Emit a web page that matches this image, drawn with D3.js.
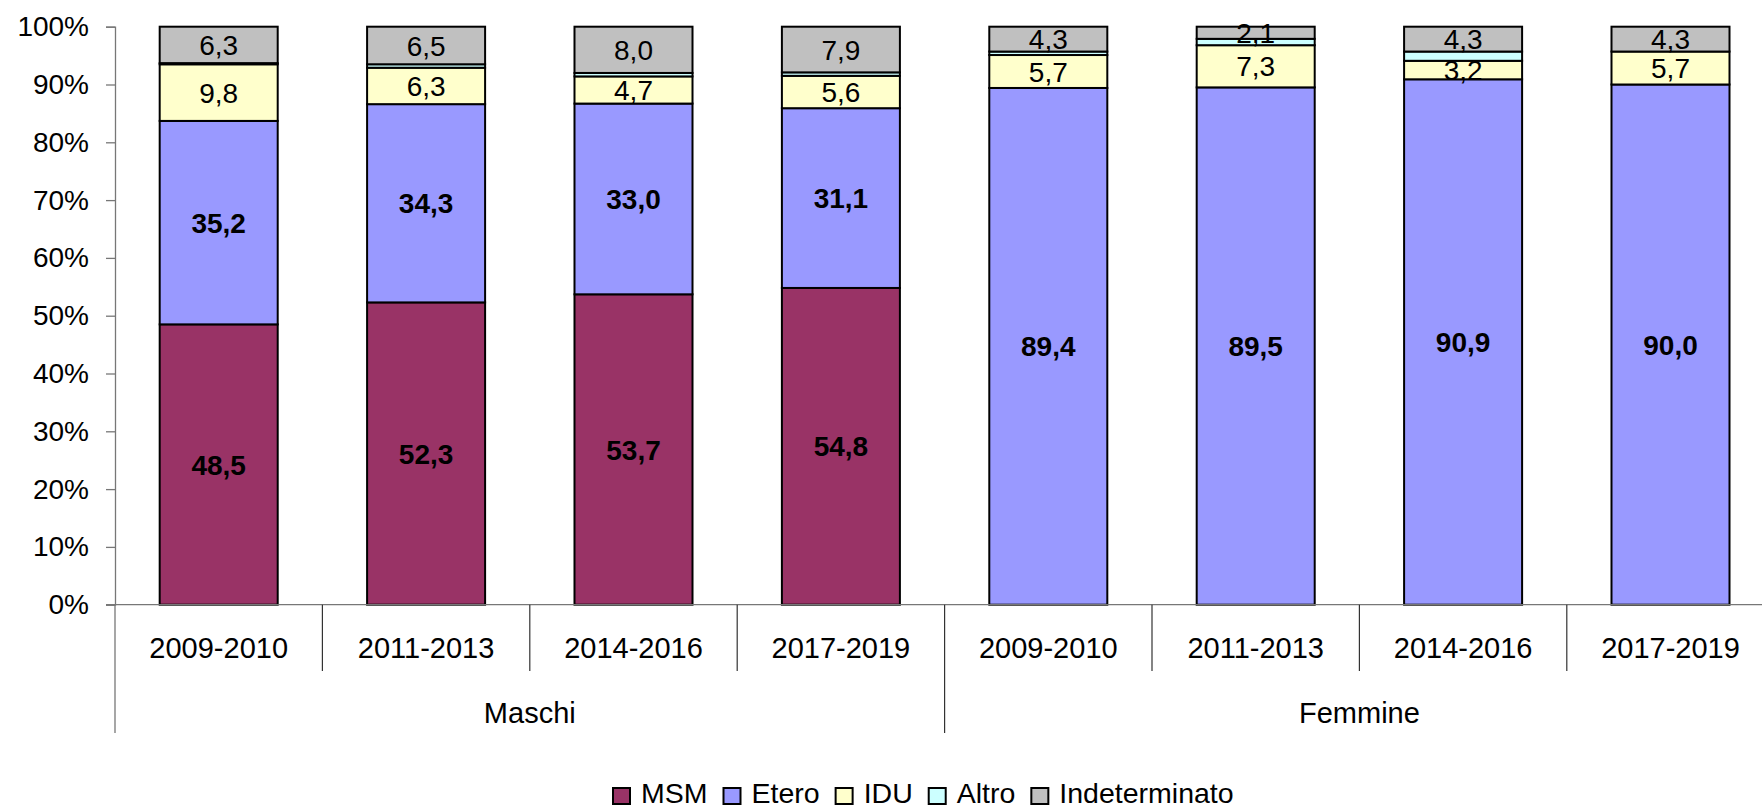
<!DOCTYPE html>
<html>
<head>
<meta charset="utf-8">
<script src="https://cdn.jsdelivr.net/npm/d3@7"></script>
<style>
  html, body { margin: 0; padding: 0; background: #fff; }
  svg { display: block; font-family: "Liberation Sans", Arial, sans-serif; }
</style>
</head>
<body>
<svg id="chart" width="1762" height="809"></svg>
<script>
// ---- Data ----
const groups = ["Maschi", "Femmine"];
const periods = ["2009-2010", "2011-2013", "2014-2016", "2017-2019"];
const seriesNames = ["MSM", "Etero", "IDU", "Altro", "Indeterminato"];
const seriesColors = ["#993366", "#9999FF", "#FFFFCC", "#CCFFFF", "#C0C0C0"];
const seriesBold = [true, true, false, false, false];
const seriesLabeled = [true, true, true, false, true];
const msm   = [48.5, 52.3, 53.7, 54.8, 0.0, 0.0, 0.0, 0.0];
const etero = [35.2, 34.3, 33.0, 31.1, 89.4, 89.5, 90.9, 90.0];
const idu   = [9.8, 6.3, 4.7, 5.6, 5.7, 7.3, 3.2, 5.7];
const altro = [0.2, 0.6, 0.6, 0.6, 0.6, 1.1, 1.6, 0.0];
const indet = [6.3, 6.5, 8.0, 7.9, 4.3, 2.1, 4.3, 4.3];
const yTicks = [0, 10, 20, 30, 40, 50, 60, 70, 80, 90, 100];

const seriesValues = [msm, etero, idu, altro, indet];

// categories: group x period
const cats = [];
groups.forEach(g => periods.forEach(p => cats.push({ group: g, period: p, id: g + "|" + p })));
const rows = cats.map((c, i) => {
  const r = { id: c.id, group: c.group, period: c.period };
  seriesNames.forEach((s, k) => r[s] = seriesValues[k][i]);
  return r;
});

// ---- Layout ----
const svg = d3.select("#chart");
const x0 = 115, xEnd = 1774.2;
const yBottom = 604.7, yTop = 26.7;

const x = d3.scaleBand().domain(cats.map(c => c.id)).range([x0, xEnd]).paddingInner(0).paddingOuter(0);
const step = x.step();
const barW = step * 0.569;
const y = d3.scaleLinear().domain([0, 100]).range([yBottom, yTop]);

const stack = d3.stack().keys(seriesNames)(rows);

// ---- Bars ----
const gBars = svg.append("g");
stack.forEach((layer, k) => {
  gBars.selectAll(null)
    .data(layer.filter(d => d[1] - d[0] > 0))
    .enter().append("rect")
    .attr("x", d => x(d.data.id) + (step - barW) / 2)
    .attr("width", barW)
    .attr("y", d => y(d[1]))
    .attr("height", d => y(d[0]) - y(d[1]))
    .attr("fill", seriesColors[k])
    .attr("stroke", "#000")
    .attr("stroke-width", 2);
});

// ---- Data labels ----
const fmt = v => v.toFixed(1).replace(".", ",");
stack.forEach((layer, k) => {
  if (!seriesLabeled[k]) return;
  svg.append("g").selectAll(null)
    .data(layer.filter(d => d[1] - d[0] > 0))
    .enter().append("text")
    .attr("x", d => x(d.data.id) + step / 2)
    .attr("y", d => y((d[0] + d[1]) / 2))
    .attr("dy", "0.36em")
    .attr("text-anchor", "middle")
    .attr("font-size", 28)
    .attr("font-weight", seriesBold[k] ? "bold" : "normal")
    .attr("fill", "#000")
    .text(d => fmt(d[1] - d[0]));
});

// ---- Y axis ----
const yAxis = d3.axisLeft(y).tickValues(yTicks).tickFormat(d => d + "%").tickSize(9).tickPadding(17);
const gY = svg.append("g").attr("transform", `translate(${x0},0)`).call(yAxis);
gY.select(".domain").attr("stroke", "#777").attr("stroke-width", 1.3);
gY.selectAll(".tick line").attr("stroke", "#777").attr("stroke-width", 1.3);
gY.selectAll(".tick text").attr("font-size", 28).attr("fill", "#000")
  .attr("font-family", "Liberation Sans, Arial, sans-serif");

// x axis baseline
svg.append("line")
  .attr("x1", x0 - 9).attr("x2", 1762)
  .attr("y1", y(0)).attr("y2", y(0))
  .attr("stroke", "#777").attr("stroke-width", 1.3);

// ---- Category axis (multi-level) ----
const catTickBottom = 671, groupLineBottom = 733;
svg.append("line").attr("x1", x0).attr("x2", x0).attr("y1", y(0)).attr("y2", groupLineBottom)
  .attr("stroke", "#777").attr("stroke-width", 1.3);
cats.forEach((c, i) => {
  if (i === 0) return;
  const xs = x(c.id);
  const isGroupStart = periods.indexOf(c.period) === 0;
  svg.append("line").attr("x1", xs).attr("x2", xs)
    .attr("y1", y(0)).attr("y2", isGroupStart ? groupLineBottom : catTickBottom)
    .attr("stroke", "#333").attr("stroke-width", 1.2);
});
svg.append("g").selectAll(null).data(cats).enter().append("text")
  .attr("x", d => x(d.id) + step / 2)
  .attr("y", 658)
  .attr("text-anchor", "middle")
  .attr("font-size", 29)
  .text(d => d.period);
groups.forEach(g => {
  const ids = cats.filter(c => c.group === g).map(c => c.id);
  const xa = x(ids[0]), xb = x(ids[ids.length - 1]) + step;
  svg.append("text")
    .attr("x", (xa + xb) / 2)
    .attr("y", 722.7)
    .attr("text-anchor", "middle")
    .attr("font-size", 29)
    .text(g);
});

// ---- Legend ----
const gLeg = svg.append("g");
let lx = 613;
seriesNames.forEach((s, k) => {
  gLeg.append("rect").attr("x", lx).attr("y", 788).attr("width", 17).attr("height", 16)
    .attr("fill", seriesColors[k]).attr("stroke", "#000").attr("stroke-width", 2);
  const t = gLeg.append("text").attr("x", lx + 28).attr("y", 802.5)
    .attr("font-size", 28.5).text(s);
  const w = t.node().getComputedTextLength();
  lx = lx + 28 + w + 16;
});
</script>
</body>
</html>
